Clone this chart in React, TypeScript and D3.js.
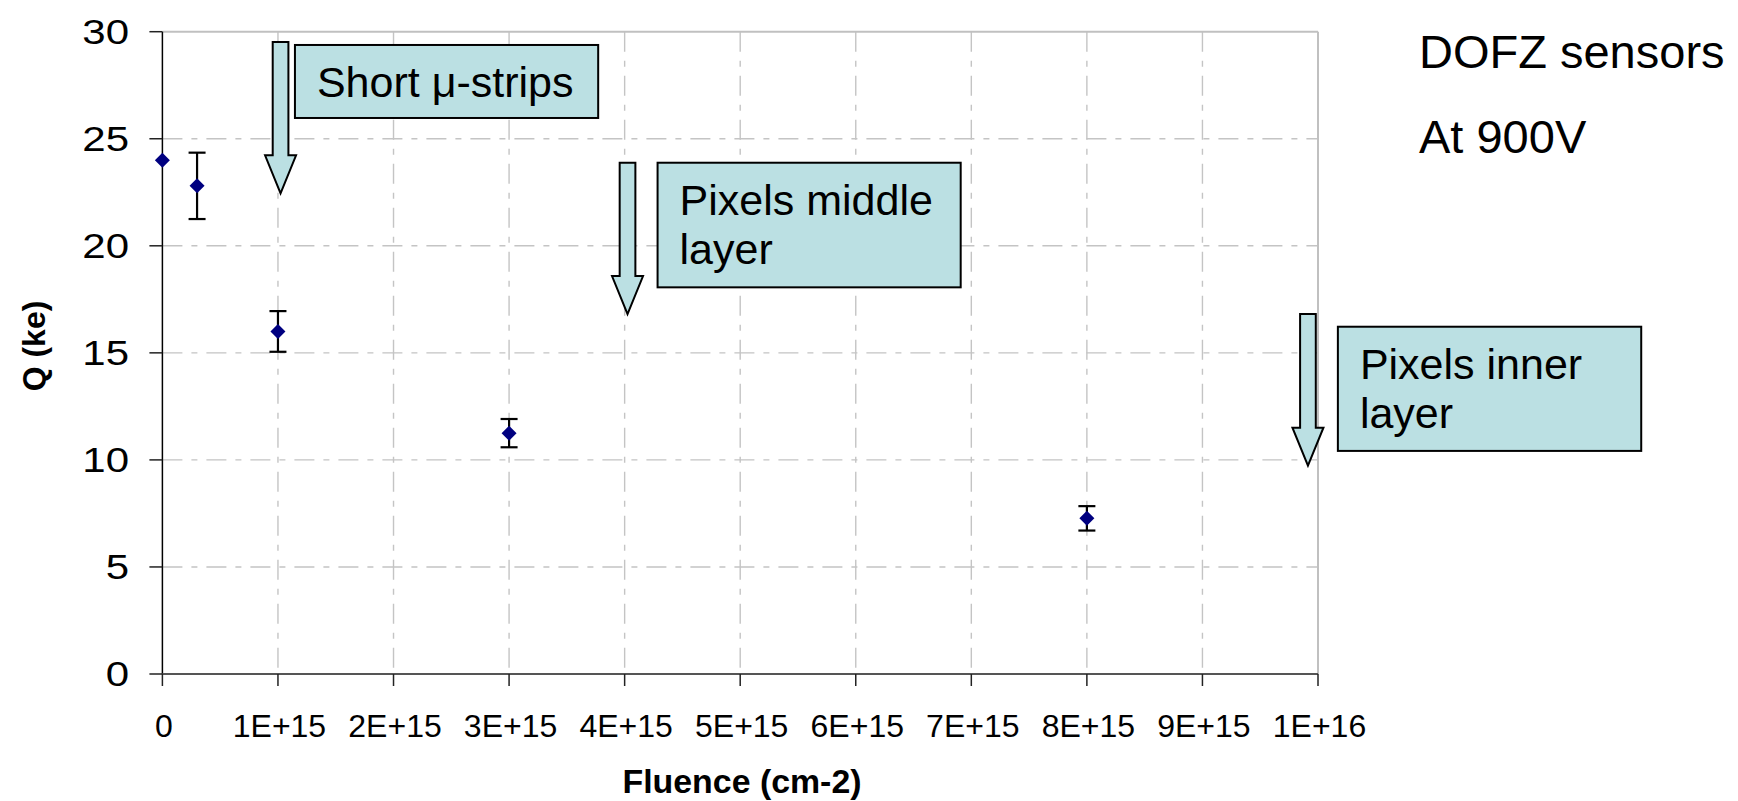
import React from "react";
import * as d3 from "d3";

// ---- data ----
const fluence = [0, 0.3e15, 1e15, 3e15, 8e15];
const charge = [24.0, 22.8, 16.0, 11.25, 7.27];
const chargeErr = [0, 1.55, 0.95, 0.66, 0.57];

const xTickValues = [0, 1e15, 2e15, 3e15, 4e15, 5e15, 6e15, 7e15, 8e15, 9e15, 1e16];
const xTickLabels = ["0", "1E+15", "2E+15", "3E+15", "4E+15", "5E+15", "6E+15", "7E+15", "8E+15", "9E+15", "1E+16"];
const yTickValues = [0, 5, 10, 15, 20, 25, 30];
const yTickLabels = ["0", "5", "10", "15", "20", "25", "30"];

const annotationLines = [["Short \u03BC-strips"], ["Pixels middle", "layer"], ["Pixels inner", "layer"]];
const arrowX = [1.0225e15, 4.025e15, 9.913e15];
const arrowTop = [29.52, 23.88, 16.81];
const arrowTip = [22.45, 16.81, 9.73];
const boxX0 = [1.147e15, 4.285e15, 10.172e15];
const boxX1 = [3.771e15, 6.908e15, 12.797e15];
const boxY0 = [29.38, 23.88, 16.22];
const boxY1 = [25.97, 18.06, 10.42];

const sideNotes = ["DOFZ sensors", "At 900V"];

const xTitle = "Fluence (cm-2)";
const yTitle = "Q (ke)";

// ---- layout ----
const W = 1738;
const H = 801;
const plotLeft = 162.4;
const plotRight = 1318;
const plotTop = 31.7;
const plotBottom = 674;
const FONT = "'Liberation Sans', Arial, Helvetica, sans-serif";
const BOX_FILL = "#bbe0e3";
const GRID = "#c4c4c4";
const MARK_R = 7.5;

export default function App() {
  const x = d3.scaleLinear().domain([0, 1e16]).range([plotLeft, plotRight]);
  const y = d3.scaleLinear().domain([0, 30]).range([plotBottom, plotTop]);

  const diamond = `M0,${-MARK_R}L${MARK_R},0L0,${MARK_R}L${-MARK_R},0Z`;

  const shaftHalf = 7.85;
  const headHalf = 15.5;
  const headLen = 38;

  return (
    <svg
      width={W}
      height={H}
      style={{ position: "absolute", left: 0, top: 0, display: "block", background: "#fff" }}
      fontFamily={FONT}
    >
      {/* gridlines */}
      <g stroke={GRID} strokeWidth={1.4} strokeDasharray="20,9,6,9">
        {yTickValues
          .filter((v) => v > 0 && v < 30)
          .map((v) => (
            <line key={"gy" + v} x1={plotLeft} x2={plotRight} y1={y(v)} y2={y(v)} />
          ))}
        {xTickValues
          .filter((v) => v > 0 && v < 1e16)
          .map((v) => (
            <line key={"gx" + v} x1={x(v)} x2={x(v)} y1={plotTop} y2={plotBottom} />
          ))}
      </g>

      {/* plot frame: top & right gray */}
      <line x1={plotLeft} x2={plotRight} y1={plotTop} y2={plotTop} stroke="#c0c0c0" strokeWidth={2} />
      <line x1={plotRight} x2={plotRight} y1={plotTop} y2={plotBottom} stroke="#c0c0c0" strokeWidth={2} />

      {/* y axis */}
      <line x1={plotLeft} x2={plotLeft} y1={plotTop} y2={plotBottom} stroke="#000" strokeWidth={1.5} />
      {yTickValues.map((v, i) => (
        <g key={"yt" + v}>
          <line x1={plotLeft - 13} x2={plotLeft} y1={y(v)} y2={y(v)} stroke="#222" strokeWidth={1.5} />
          <text
            transform={`translate(129, ${y(v) + 12}) scale(1.2, 1)`}
            textAnchor="end"
            fontSize={35}
            fill="#000"
          >
            {yTickLabels[i]}
          </text>
        </g>
      ))}

      {/* x axis */}
      <line x1={plotLeft} x2={plotRight} y1={plotBottom} y2={plotBottom} stroke="#555" strokeWidth={2} />
      {xTickValues.map((v, i) => (
        <g key={"xt" + v}>
          <line x1={x(v)} x2={x(v)} y1={plotBottom} y2={plotBottom + 12} stroke="#222" strokeWidth={1.5} />
          <text x={x(v) + 1.5} y={737} textAnchor="middle" fontSize={32} fill="#000">
            {xTickLabels[i]}
          </text>
        </g>
      ))}

      {/* axis titles */}
      <text
        x={742}
        y={793}
        textAnchor="middle"
        fontSize={33}
        fontWeight="bold"
        textLength={239}
        lengthAdjust="spacingAndGlyphs"
      >
        {xTitle}
      </text>
      <text
        transform={`translate(45, 346) rotate(-90)`}
        textAnchor="middle"
        fontSize={32}
        fontWeight="bold"
      >
        {yTitle}
      </text>

      {/* error bars */}
      <g stroke="#000" strokeWidth={2.2}>
        {fluence.map((f, i) =>
          chargeErr[i] > 0 ? (
            <g key={"eb" + i}>
              <line x1={x(f)} x2={x(f)} y1={y(charge[i] + chargeErr[i])} y2={y(charge[i] - chargeErr[i])} />
              <line x1={x(f) - 8.5} x2={x(f) + 8.5} y1={y(charge[i] + chargeErr[i])} y2={y(charge[i] + chargeErr[i])} />
              <line x1={x(f) - 8.5} x2={x(f) + 8.5} y1={y(charge[i] - chargeErr[i])} y2={y(charge[i] - chargeErr[i])} />
            </g>
          ) : null
        )}
      </g>

      {/* markers */}
      {fluence.map((f, i) => (
        <path key={"m" + i} d={diamond} transform={`translate(${x(f)}, ${y(charge[i])})`} fill="#000080" />
      ))}

      {/* annotation arrows */}
      {arrowX.map((ax, i) => {
        const cx = x(ax);
        const t = y(arrowTop[i]);
        const tip = y(arrowTip[i]);
        const hs = tip - headLen;
        const p = [
          [cx - shaftHalf, t],
          [cx + shaftHalf, t],
          [cx + shaftHalf, hs],
          [cx + headHalf, hs],
          [cx, tip],
          [cx - headHalf, hs],
          [cx - shaftHalf, hs],
        ];
        return (
          <path
            key={"ar" + i}
            d={"M" + p.map((q) => q.join(",")).join("L") + "Z"}
            fill={BOX_FILL}
            stroke="#000"
            strokeWidth={2}
            strokeLinejoin="miter"
          />
        );
      })}

      {/* annotation boxes */}
      {annotationLines.map((lines, i) => {
        const bx = x(boxX0[i]);
        const by = y(boxY0[i]);
        const bw = x(boxX1[i]) - bx;
        const bh = y(boxY1[i]) - by;
        return (
          <g key={"box" + i}>
            <rect x={bx} y={by} width={bw} height={bh} fill={BOX_FILL} stroke="#000" strokeWidth={2} />
            {lines.map((ln, j) => (
              <text key={j} x={bx + 22} y={by + 52.5 + j * 49} fontSize={43} fill="#000">
                {ln}
              </text>
            ))}
          </g>
        );
      })}

      {/* side notes */}
      {sideNotes.map((s, i) => (
        <text key={"sn" + i} x={1419} y={68.3 + i * 85} fontSize={47} fill="#000">
          {s}
        </text>
      ))}
    </svg>
  );
}
